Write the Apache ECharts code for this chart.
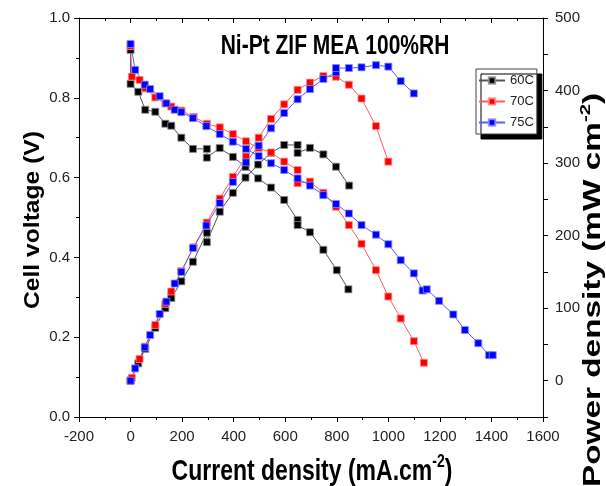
<!DOCTYPE html>
<html><head><meta charset="utf-8">
<script src="https://cdn.jsdelivr.net/npm/echarts@6/dist/echarts.min.js"></script>
<style>html,body{margin:0;padding:0;background:#fff}#c{width:606px;height:486px}</style>
</head><body><div id="c"></div>
<script>
// ---- data ----
const seriesNames = ['60C', '70C', '75C'];
const chartTitle = 'Ni-Pt ZIF MEA 100%RH';

// Cell voltage (V) vs current density (mA/cm2)
const v60x = [0, 0, 30, 57, 96, 135, 158, 197, 242, 296, 296, 346, 397, 446, 495, 545, 596, 648, 648, 696, 748, 800, 845];
const v60  = [0.92, 0.835, 0.815, 0.77, 0.765, 0.735, 0.73, 0.70, 0.672, 0.672, 0.65, 0.674, 0.652, 0.627, 0.598, 0.575, 0.544, 0.494, 0.481, 0.463, 0.419, 0.368, 0.32];
const v70x = [0, 5, 35, 57, 96, 135, 158, 197, 245, 296, 346, 397, 448, 497, 545, 596, 648, 648, 696, 748, 797, 847, 896, 952, 1000, 1048, 1099, 1138];
const v70  = [0.93, 0.853, 0.845, 0.824, 0.801, 0.786, 0.778, 0.768, 0.752, 0.735, 0.726, 0.709, 0.691, 0.674, 0.663, 0.640, 0.619, 0.586, 0.590, 0.562, 0.527, 0.481, 0.434, 0.368, 0.302, 0.247, 0.19, 0.136];
const v75x = [0, 18, 55, 76, 113, 139, 171, 197, 242, 294, 346, 397, 448, 497, 545, 596, 648, 696, 748, 797, 847, 896, 952, 1000, 1048, 1099, 1133, 1149, 1197, 1252, 1297, 1349, 1391, 1405];
const v75  = [0.935, 0.870, 0.833, 0.822, 0.804, 0.786, 0.770, 0.764, 0.749, 0.729, 0.709, 0.690, 0.672, 0.654, 0.636, 0.619, 0.598, 0.580, 0.556, 0.534, 0.510, 0.481, 0.457, 0.433, 0.393, 0.360, 0.317, 0.320, 0.291, 0.257, 0.218, 0.185, 0.155, 0.155];

// Power density (mW/cm2) vs current density
const p60x = [0, 0, 30, 57, 96, 135, 158, 197, 242, 296, 296, 346, 397, 446, 495, 545, 596, 648, 648, 696, 748, 797, 848];
const p60  = [0, 0, 24, 44, 73, 100, 114, 137, 164, 204, 191, 233, 259, 280, 298, 314, 325, 325, 314, 321, 312, 295, 269];
const p70x = [0, 5, 35, 57, 96, 135, 158, 197, 245, 296, 346, 397, 448, 497, 545, 596, 648, 696, 748, 797, 847, 896, 952, 1000];
const p70  = [0, 4, 30, 47, 77, 106, 123, 151, 184, 218, 251, 281, 309, 335, 361, 381, 401, 411, 420, 419, 408, 389, 351, 302];
const p75x = [0, 18, 55, 76, 113, 139, 171, 197, 242, 294, 346, 397, 448, 497, 545, 596, 648, 696, 748, 797, 797, 847, 896, 952, 1000, 1048, 1099];
const p75  = [0, 17, 46, 63, 92, 109, 134, 150, 183, 214, 245, 274, 301, 324, 348, 369, 388, 402, 416, 425, 431, 431, 432, 435, 433, 413, 396];

// axis ranges
const xRange = { min: -200, max: 1600, step: 200 };
const vRange = { min: 0, max: 1, step: 0.2 };
const pRange = { min: -50, max: 500, step: 50 };

// ---- chart ----
const FONT = '"Liberation Sans", Arial, sans-serif';
const zip = (xs, ys) => xs.map((x, i) => [x, ys[i]]);
const styles = {
  '60C': { mark: '#000000', line: '#555555', border: 'rgba(140,140,140,0.8)' },
  '70C': { mark: '#ff0000', line: '#ff5a5a', border: 'rgba(255,140,140,0.8)' },
  '75C': { mark: '#0000ff', line: '#5a5aff', border: 'rgba(140,140,255,0.8)' }
};
function mk(name, data, yIdx) {
  const s = styles[name];
  return {
    name, type: 'line', xAxisIndex: 0, yAxisIndex: yIdx, data,
    symbol: 'rect', symbolSize: 7, showSymbol: true, showAllSymbol: true,
    lineStyle: { color: s.line, width: 1 },
    itemStyle: { color: s.mark, borderColor: s.border, borderWidth: 1 },
    emphasis: { disabled: true }, animation: false, z: 3
  };
}
const axisCommon = {
  axisLine: { show: true, onZero: false, lineStyle: { color: '#000', width: 1 } },
  splitLine: { show: false },
  axisLabel: { fontSize: 15, color: '#222', fontFamily: FONT }
};
const chart = echarts.init(document.getElementById('c'), null, { renderer: 'canvas' });
chart.setOption({
  animation: false,
  backgroundColor: '#fff',
  grid: { left: 79, right: 63, top: 18, bottom: 69, containLabel: false },
  legend: {
    orient: 'vertical', left: 476, top: 69,
    data: seriesNames,
    itemWidth: 26, itemHeight: 8, itemGap: 8,
    padding: [5, 3, 5, 2],
    backgroundColor: '#fff', borderColor: '#444', borderWidth: 1, borderRadius: 0,
    shadowColor: '#000', shadowBlur: 0, shadowOffsetX: 5, shadowOffsetY: 5,
    textStyle: { fontSize: 13, color: '#222', fontFamily: FONT }
  },
  xAxis: [
    Object.assign({}, axisCommon, {
      type: 'value', position: 'bottom', min: xRange.min, max: xRange.max, interval: xRange.step,
      axisTick: { show: true, inside: false, length: 5, lineStyle: { color: '#000' } },
      minorTick: { show: true, splitNumber: 2, length: 3, lineStyle: { color: '#000' } },
      axisLabel: { fontSize: 15, color: '#222', fontFamily: FONT, margin: 12, formatter: v => String(v) }
    }),
    Object.assign({}, axisCommon, {
      type: 'value', position: 'top', min: xRange.min, max: xRange.max, interval: xRange.step,
      axisTick: { show: true, inside: true, length: 5, lineStyle: { color: '#000' } },
      minorTick: { show: true, splitNumber: 2, length: 3, lineStyle: { color: '#000' } },
      axisLabel: { show: false }
    })
  ],
  yAxis: [
    Object.assign({}, axisCommon, {
      type: 'value', position: 'left', min: vRange.min, max: vRange.max, interval: vRange.step,
      axisTick: { show: true, inside: false, length: 5, lineStyle: { color: '#000' } },
      minorTick: { show: true, splitNumber: 2, length: 3, lineStyle: { color: '#000' } },
      axisLabel: { fontSize: 15, color: '#222', fontFamily: FONT, margin: 9, formatter: v => v.toFixed(1) }
    }),
    Object.assign({}, axisCommon, {
      type: 'value', position: 'right', min: pRange.min, max: pRange.max, interval: pRange.step,
      alignTicks: false,
      axisTick: { show: true, inside: false, length: 5, lineStyle: { color: '#000' } },
      axisLabel: { fontSize: 15, color: '#222', fontFamily: FONT, margin: 12,
        formatter: v => (v >= 0 && v % 100 === 0) ? String(v) : '' }
    })
  ],
  series: [
    mk('60C', zip(v60x, v60), 0),
    mk('60C', zip(p60x, p60), 1),
    mk('70C', zip(v70x, v70), 0),
    mk('70C', zip(p70x, p70), 1),
    mk('75C', zip(v75x, v75), 0),
    mk('75C', zip(p75x, p75), 1)
  ],
  graphic: [
    { type: 'text', x: 335, y: 46, scaleY: 1.3, z: 10,
      style: { text: chartTitle, font: 'bold 21px ' + FONT, fill: '#000',
        textAlign: 'center', textVerticalAlign: 'middle', align: 'center', verticalAlign: 'middle' } },
    { type: 'text', x: 312, y: 470, scaleY: 1.25, z: 10,
      style: { text: '{a|Current density (mA.cm}{s|-2}{a|)}',
        rich: {
          a: { fontSize: 23, fontWeight: 'bold', fontFamily: FONT, fill: '#000', lineHeight: 26, verticalAlign: 'bottom' },
          s: { fontSize: 14, fontWeight: 'bold', fontFamily: FONT, fill: '#000', lineHeight: 26, verticalAlign: 'top', padding: [0, 0, 10, 0] }
        },
        textAlign: 'center', textVerticalAlign: 'middle', align: 'center', verticalAlign: 'middle' } },
    { type: 'text', x: 33, y: 220, rotation: Math.PI / 2, scaleX: 1.12, z: 10,
      style: { text: 'Cell voltage (V)', font: 'bold 22px ' + FONT, fill: '#000',
        textAlign: 'center', textVerticalAlign: 'middle', align: 'center', verticalAlign: 'middle' } },
    { type: 'text', x: 592, y: 290, rotation: Math.PI / 2, scaleX: 1.45, z: 10,
      style: { text: '{a|Power density (mW cm}{s|-2}{a|)}',
        rich: {
          a: { fontSize: 23, fontWeight: 'bold', fontFamily: FONT, fill: '#000', lineHeight: 26, verticalAlign: 'bottom' },
          s: { fontSize: 14, fontWeight: 'bold', fontFamily: FONT, fill: '#000', lineHeight: 26, verticalAlign: 'top', padding: [0, 0, 10, 0] }
        },
        textAlign: 'center', textVerticalAlign: 'middle', align: 'center', verticalAlign: 'middle' } }
  ]
});
</script>
</body></html>
